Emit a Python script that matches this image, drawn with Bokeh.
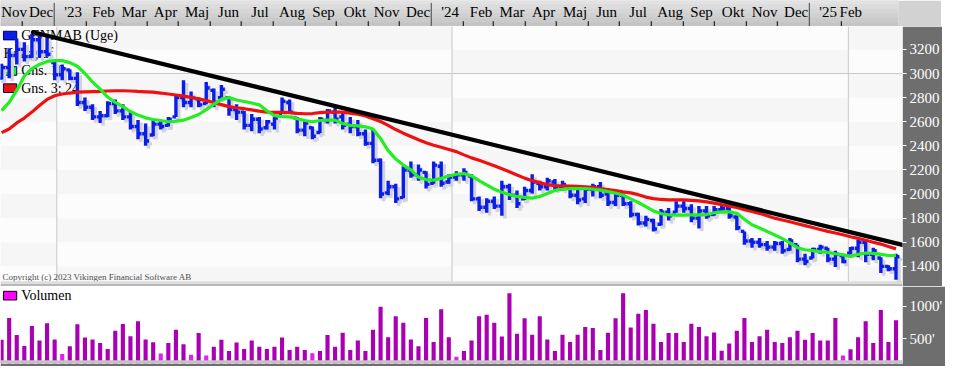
import numpy as np
import pandas as pd
from bokeh.plotting import figure
from bokeh.layouts import column
from bokeh.models import Range1d, LinearAxis, FixedTicker
from bokeh.embed import file_html
from bokeh.resources import INLINE
from bokeh.core.properties import value

# ---------------- data ----------------
first_week = "2022-11-11"
view_start = "2022-11-10"
view_end = "2025-02-20"

high = [3080, 3210, 3290, 3260, 3330, 3315, 3300, 3100, 3075, 3035,
        3010, 2800, 2745, 2690, 2770, 2785, 2745, 2690, 2615, 2585,
        2615, 2615, 2640, 2825, 2945, 2850, 2800, 2930, 2875, 2905,
        2810, 2745, 2690, 2665, 2640, 2615, 2640, 2800, 2785, 2640,
        2615, 2560, 2640, 2705, 2720, 2690, 2640, 2615, 2535, 2535,
        2295, 2110, 2085, 2230, 2270, 2245, 2190, 2270, 2270, 2165,
        2190, 2215, 2165, 1980, 1965, 1980, 2110, 2085, 2030, 2060,
        2165, 2110, 2135, 2125, 2110, 2060, 2060, 2060, 2085, 2100,
        2045, 2030, 2005, 1940, 1845, 1820, 1795, 1875, 1885, 1940,
        1940, 1915, 1900, 1900, 1900, 1900, 1885, 1820, 1690, 1635,
        1635, 1610, 1610, 1610, 1635, 1580, 1505, 1555, 1580, 1555,
        1530, 1505, 1560, 1620, 1610, 1555, 1475, 1410, 1505]
low = [2950, 2960, 3075, 3100, 3130, 3130, 3140, 2945, 2945, 2945,
       2730, 2690, 2615, 2590, 2640, 2665, 2615, 2535, 2455, 2400,
       2480, 2535, 2560, 2640, 2720, 2720, 2720, 2745, 2720, 2800,
       2650, 2615, 2535, 2520, 2505, 2535, 2535, 2665, 2665, 2505,
       2480, 2455, 2505, 2585, 2585, 2535, 2505, 2480, 2400, 2255,
       1965, 1990, 1925, 1965, 2135, 2110, 2045, 2085, 2060, 2085,
       2110, 2110, 1940, 1860, 1845, 1875, 1820, 1950, 1885, 1950,
       2005, 2030, 2030, 2030, 2030, 1965, 1915, 1925, 1980, 1965,
       1900, 1900, 1900, 1805, 1740, 1730, 1690, 1740, 1780, 1845,
       1845, 1765, 1715, 1795, 1820, 1845, 1795, 1700, 1580, 1555,
       1555, 1530, 1530, 1505, 1530, 1435, 1410, 1465, 1505, 1435,
       1395, 1425, 1500, 1475, 1435, 1450, 1345, 1360, 1290]
open_ = [2960, 3050, 3150, 3200, 3140, 3280, 3180, 3090, 2990, 3030,
         2960, 2760, 2720, 2640, 2650, 2750, 2690, 2640, 2560, 2500,
         2490, 2580, 2570, 2640, 2800, 2760, 2790, 2750, 2860, 2800,
         2800, 2700, 2680, 2570, 2620, 2550, 2580, 2670, 2760, 2630,
         2530, 2550, 2510, 2610, 2680, 2640, 2580, 2560, 2500, 2420,
         2280, 2010, 2060, 1970, 2200, 2160, 2180, 2090, 2230, 2100,
         2140, 2160, 2150, 1960, 1890, 1940, 1900, 2060, 1990, 1960,
         2030, 2090, 2060, 2100, 2060, 2050, 1990, 1960, 2040, 2060,
         2000, 1930, 1990, 1920, 1830, 1760, 1780, 1750, 1850, 1850,
         1900, 1880, 1800, 1860, 1830, 1870, 1880, 1810, 1690, 1610,
         1600, 1580, 1560, 1590, 1540, 1580, 1460, 1470, 1540, 1550,
         1460, 1490, 1510, 1550, 1600, 1500, 1470, 1400, 1380]
close = [3050, 3150, 3200, 3140, 3280, 3180, 3160, 2990, 3040, 2960,
         2760, 2720, 2640, 2650, 2750, 2690, 2640, 2560, 2500, 2440,
         2580, 2560, 2620, 2800, 2760, 2800, 2740, 2880, 2760, 2870,
         2700, 2680, 2570, 2620, 2540, 2600, 2630, 2770, 2680, 2530,
         2590, 2480, 2620, 2690, 2620, 2570, 2560, 2500, 2420, 2280,
         2000, 2060, 1960, 2200, 2160, 2200, 2080, 2240, 2090, 2140,
         2160, 2180, 1960, 1890, 1940, 1900, 2060, 1990, 1920, 2030,
         2100, 2060, 2110, 2060, 2080, 1990, 1950, 2040, 2060, 1990,
         1930, 1990, 1920, 1830, 1760, 1790, 1710, 1850, 1820, 1900,
         1880, 1800, 1860, 1820, 1870, 1880, 1820, 1720, 1610, 1600,
         1580, 1560, 1590, 1530, 1610, 1460, 1440, 1540, 1560, 1460,
         1500, 1440, 1550, 1600, 1500, 1530, 1400, 1380, 1480]
ma_short = [2692, 2760, 2860, 2980, 3040, 3075, 3100, 3107, 3107, 3090,
            3060, 3000, 2930, 2870, 2805, 2760, 2725, 2685, 2655, 2632,
            2618, 2610, 2600, 2605, 2613, 2635, 2660, 2700, 2745, 2785,
            2800, 2780, 2768, 2755, 2740, 2690, 2650, 2642, 2640, 2625,
            2610, 2600, 2610, 2613, 2613, 2585, 2570, 2565, 2558, 2540,
            2460, 2360, 2290, 2240, 2200, 2140, 2120, 2116, 2130, 2150,
            2164, 2170, 2150, 2111, 2075, 2040, 2015, 1995, 1980, 1972,
            1966, 1980, 2005, 2030, 2040, 2045, 2045, 2045, 2040, 2033,
            2020, 2008, 1990, 1960, 1930, 1895, 1860, 1838, 1828, 1825,
            1825, 1828, 1828, 1830, 1845, 1852, 1852, 1840, 1790, 1745,
            1718, 1690, 1660, 1630, 1595, 1555, 1538, 1530, 1522, 1516,
            1505, 1495, 1483, 1500, 1511, 1508, 1500, 1490, 1490]
ma_long = [2510, 2540, 2590, 2630, 2680, 2735, 2785, 2815, 2830, 2838,
           2845, 2848, 2850, 2852, 2855, 2857, 2857, 2855, 2851, 2848,
           2845, 2838, 2830, 2822, 2812, 2802, 2790, 2775, 2760, 2742,
           2725, 2716, 2708, 2698, 2688, 2680, 2678, 2678, 2675, 2670,
           2666, 2668, 2675, 2679, 2680, 2679, 2672, 2662, 2648, 2625,
           2602, 2570, 2535, 2505, 2478, 2450, 2425, 2405, 2388, 2370,
           2352, 2325, 2300, 2280, 2258, 2235, 2210, 2185, 2158, 2132,
           2111, 2095, 2078, 2070, 2068, 2066, 2063, 2060, 2055, 2046,
           2038, 2028, 2018, 2010, 1995, 1975, 1962, 1955, 1952, 1952,
           1952, 1948, 1944, 1935, 1925, 1912, 1900, 1888, 1870, 1855,
           1840, 1820, 1800, 1785, 1770, 1754, 1738, 1722, 1706, 1690,
           1677, 1662, 1646, 1632, 1617, 1600, 1585, 1565, 1545]
volume = [488, 821, 562, 394, 699, 478, 738, 493, 272, 390,
          723, 522, 493, 438, 346, 625, 728, 541, 772, 493,
          449, 277, 438, 640, 419, 258, 591, 247, 380, 488,
          316, 444, 346, 478, 380, 346, 380, 522, 331, 380,
          331, 282, 316, 562, 380, 596, 331, 478, 316, 640,
          993, 527, 846, 748, 493, 390, 821, 453, 953, 527,
          228, 316, 478, 846, 870, 748, 537, 1198, 581, 816,
          566, 846, 493, 316, 566, 453, 566, 684, 669, 331,
          596, 816, 1198, 674, 885, 944, 733, 453, 591, 591,
          453, 733, 684, 541, 600, 321, 429, 625, 821, 453,
          541, 640, 453, 439, 527, 625, 488, 591, 478, 478,
          821, 247, 341, 527, 772, 439, 944, 453, 787]
trend_dates = ["2022-12-10", "2025-02-20"]
trend_values = [3343, 1578]
price_ticks = [1400, 1600, 1800, 2000, 2200, 2400, 2600, 2800, 3000, 3200]
price_grid_levels = [3000]
volume_ticks = [500, 1000]
volume_tick_labels = ["500'", "1000'"]
month_names = ["Jan", "Feb", "Mar", "Apr", "Maj", "Jun", "Jul", "Aug", "Sep", "Okt", "Nov", "Dec"]
legend_labels = ["GENMAB (Uge)", "Kursgraf", "Gns. 10", "Gns. 3: 24"]
volume_label = "Volumen"
copyright_text = "Copyright (c) 2023 Vikingen Financial Software AB"

# ---------------- layout helpers (reference pixel geometry) ----------------
FONT = "Liberation Sans Narrow"
BLUE = "#0b1ee8"
GREEN = "#22ee22"
RED = "#ee1111"
AXIS_BG = "#6e6e6e"

def ms(ts):
    return pd.Timestamp(ts).value / 1e6

dates = pd.date_range(first_week, periods=len(close), freq="7D")
xd = dates.asi8 / 1e6
x0 = ms(view_start)
x1 = ms(view_end)
SPAN = x1 - x0
FW_REF = 917.0             # reference width of plot frame

def rx(px):
    return x0 + SPAN * px / FW_REF

P_TOP, P_BOT = 3390.0, 1233.0   # price frame covers ref y 27..299
def py(y):
    return P_TOP - (y - 27.0) / 272.0 * (P_TOP - P_BOT)

V_TOP, V_BOT = 1301.0, 125.0    # volume frame covers ref y 299..379
def vy(y):
    return V_TOP - (y - 299.0) / 80.0 * (V_TOP - V_BOT)

px_w = SPAN / FW_REF
py_h = (P_TOP - P_BOT) / 272.0

# ---------------- top band (month labels) ----------------
band_end = x0 + SPAN * 957.0 / FW_REF
band = figure(width=941, height=26, x_range=Range1d(x0, band_end), y_range=Range1d(27, 0),
              toolbar_location=None, output_backend="svg", min_border=0,
              x_axis_location=None, y_axis_location=None, outline_line_color=None,
              background_fill_color="#d2d2d2", border_fill_color="#d2d2d2")
band.grid.visible = False
grad = ["#e2e2e2", "#dcdcdc", "#d6d6d6", "#d0d0d0", "#cacaca", "#c4c4c4"]
for i, c in enumerate(grad):
    band.quad(left=x0, right=band_end, top=i * 4.5, bottom=(i + 1) * 4.5, fill_color=c, line_color=None)

months = pd.date_range("2022-11-01", "2025-02-01", freq="MS")
lab_x, lab_t, tick_x, year_x = [], [], [], []
last_date = dates[-1]
for m in months:
    nxt = m + pd.offsets.MonthBegin(1)
    s = max(m, pd.Timestamp(view_start))
    e = min(nxt, last_date)
    lab_x.append(max((ms(s) + ms(e)) / 2 + 3 * px_w, rx(12)))
    if m.month == 1:
        lab_t.append("'%02d" % (m.year % 100))
        year_x.append(ms(m))
    else:
        lab_t.append(month_names[m.month - 1])
        if m >= pd.Timestamp(view_start):
            tick_x.append(ms(m))
band.segment(x0=tick_x, y0=[21.5] * len(tick_x), x1=tick_x, y1=[27] * len(tick_x),
             line_color="black", line_width=1)
band.segment(x0=year_x, y0=[2.5] * len(year_x), x1=year_x, y1=[27] * len(year_x),
             line_color="#444444", line_width=1)
band.text(x=lab_x, y=[11.5] * len(lab_x), text=lab_t, text_align="center", text_baseline="middle",
          text_font=value(FONT), text_font_size="15px", text_color="black")

# ---------------- price panel ----------------
p = figure(x_range=Range1d(x0, x1), y_range=Range1d(P_BOT, P_TOP),
           frame_width=902, frame_height=260, min_border_left=0, min_border_top=0,
           min_border_bottom=0, min_border_right=39,
           toolbar_location=None, output_backend="svg",
           x_axis_location=None, y_axis_location=None, outline_line_color=None,
           background_fill_color="#fafafa", border_fill_color=AXIS_BG)
p.grid.visible = False

# faint checker background (per year x 200 band)
yb = [ms(view_start), ms("2023-01-01"), ms("2024-01-01"), ms("2025-01-01"), ms(view_end)]
lv = list(range(1200, 3600, 200))
ql, qr, qb, qt, qc = [], [], [], [], []
for i in range(len(yb) - 1):
    for j in range(len(lv) - 1):
        ql.append(yb[i]); qr.append(yb[i + 1]); qb.append(lv[j]); qt.append(lv[j + 1])
        qc.append("#fcfcfc" if (i + j) % 2 == 0 else "#f6f6f6")
p.quad(left=ql, right=qr, bottom=qb, top=qt, fill_color=qc, line_color=None)

# grid
p.segment(x0=yb[1:4], y0=[P_BOT] * 3, x1=yb[1:4], y1=[P_TOP] * 3, line_color="#c8c8c8", line_width=1)
p.segment(x0=[x0] * len(price_grid_levels), y0=price_grid_levels, x1=[x1] * len(price_grid_levels),
          y1=price_grid_levels, line_color="#c8c8c8", line_width=1)

# legend (beneath the data, as in the original)
box_cols = [BLUE, GREEN, RED]
box_rows = [36.5, 73.5, 91.5]
for c, yy in zip(box_cols, box_rows):
    p.quad(left=rx(3), right=rx(16.5), top=py(yy - 4.5), bottom=py(yy + 4.5),
           fill_color=c, line_color="#000060", line_width=1)
p.text(x=[rx(21), rx(3), rx(21), rx(21)], y=[py(36.5), py(55.5), py(73.5), py(91.5)],
       text=legend_labels, text_baseline="middle", text_font=value(FONT),
       text_font_size="14px", text_color="black")
p.text(x=[rx(2)], y=[py(289.5)], text=[copyright_text], text_baseline="middle",
       text_font=value("Liberation Serif"), text_font_size="9px", text_color="#505050")

# separator strip at panel bottom
p.quad(left=x0, right=x1, bottom=py(296.5), top=py(293.5), fill_color="#dedede", line_color=None)
p.quad(left=x0, right=x1, bottom=P_BOT, top=py(296.5), fill_color="#b8b8b8", line_color=None)

hi = np.array(high, float); lo = np.array(low, float)
op = np.array(open_, float); cl = np.array(close, float)
tick = 3.5 * px_w
sdx, sdy = 3 * px_w, 3 * py_h
SH = "#d2d2da"
LW = 3.4
# shadows
p.segment(x0=xd + sdx, y0=lo - sdy, x1=xd + sdx, y1=hi - sdy, line_color=SH, line_width=LW)
p.segment(x0=xd - tick + sdx, y0=op - sdy, x1=xd + sdx, y1=op - sdy, line_color=SH, line_width=LW)
p.segment(x0=xd + sdx, y0=cl - sdy, x1=xd + tick + sdx, y1=cl - sdy, line_color=SH, line_width=LW)
# OHLC bars
p.segment(x0=xd, y0=lo, x1=xd, y1=hi, line_color=BLUE, line_width=LW)
p.segment(x0=xd - tick, y0=op, x1=xd, y1=op, line_color=BLUE, line_width=LW)
p.segment(x0=xd, y0=cl, x1=xd + tick, y1=cl, line_color=BLUE, line_width=LW)

p.line(xd, ma_long, line_color=RED, line_width=3.2)
p.line(xd, ma_short, line_color=GREEN, line_width=3.2)
p.line([ms(d) for d in trend_dates], trend_values, line_color="black", line_width=4.2, line_cap="round")

pax = LinearAxis(ticker=FixedTicker(ticks=price_ticks))
pax.axis_line_color = None
pax.major_tick_line_color = "white"
pax.major_tick_in = 0
pax.major_tick_out = 4
pax.minor_tick_line_color = None
pax.major_label_text_color = "white"
pax.major_label_text_font = FONT
pax.major_label_text_font_size = "15px"
pax.major_label_standoff = 3
p.add_layout(pax, "right")

# ---------------- volume panel ----------------
v = figure(x_range=p.x_range, y_range=Range1d(V_BOT, V_TOP),
           frame_width=902, frame_height=77, min_border_left=0, min_border_top=0,
           min_border_bottom=3, min_border_right=39,
           toolbar_location=None, output_backend="svg",
           x_axis_location=None, y_axis_location=None, outline_line_color=None,
           background_fill_color="white", border_fill_color=AXIS_BG)
v.grid.visible = False
vol = np.array(volume, float)
vcol = ["#e41ef0" if q < 300 else "#aa00b4" for q in vol]
v.vbar(x=xd, top=vol, bottom=V_BOT, width=4.2 * px_w, fill_color=vcol, line_color=None)
v.quad(left=x0, right=x1, bottom=V_BOT, top=vy(375.5), fill_color="#c2c2c2", line_color=None)
v.quad(left=rx(3), right=rx(16.5), top=vy(304), bottom=vy(313), fill_color="#ff00ff",
       line_color="black", line_width=1)
v.text(x=[rx(21)], y=[vy(308.5)], text=[volume_label], text_baseline="middle",
       text_font=value(FONT), text_font_size="14px", text_color="black")

vax = LinearAxis(ticker=FixedTicker(ticks=volume_ticks),
                 major_label_overrides=dict(zip(volume_ticks, volume_tick_labels)))
vax.axis_line_color = None
vax.major_tick_line_color = "white"
vax.major_tick_in = 0
vax.major_tick_out = 4
vax.minor_tick_line_color = None
vax.major_label_text_color = "white"
vax.major_label_text_font = FONT
vax.major_label_text_font_size = "15px"
vax.major_label_standoff = 3
v.add_layout(vax, "right")

layout = column(band, p, v, spacing=0)
open("out.html", "w").write(file_html(layout, INLINE))
